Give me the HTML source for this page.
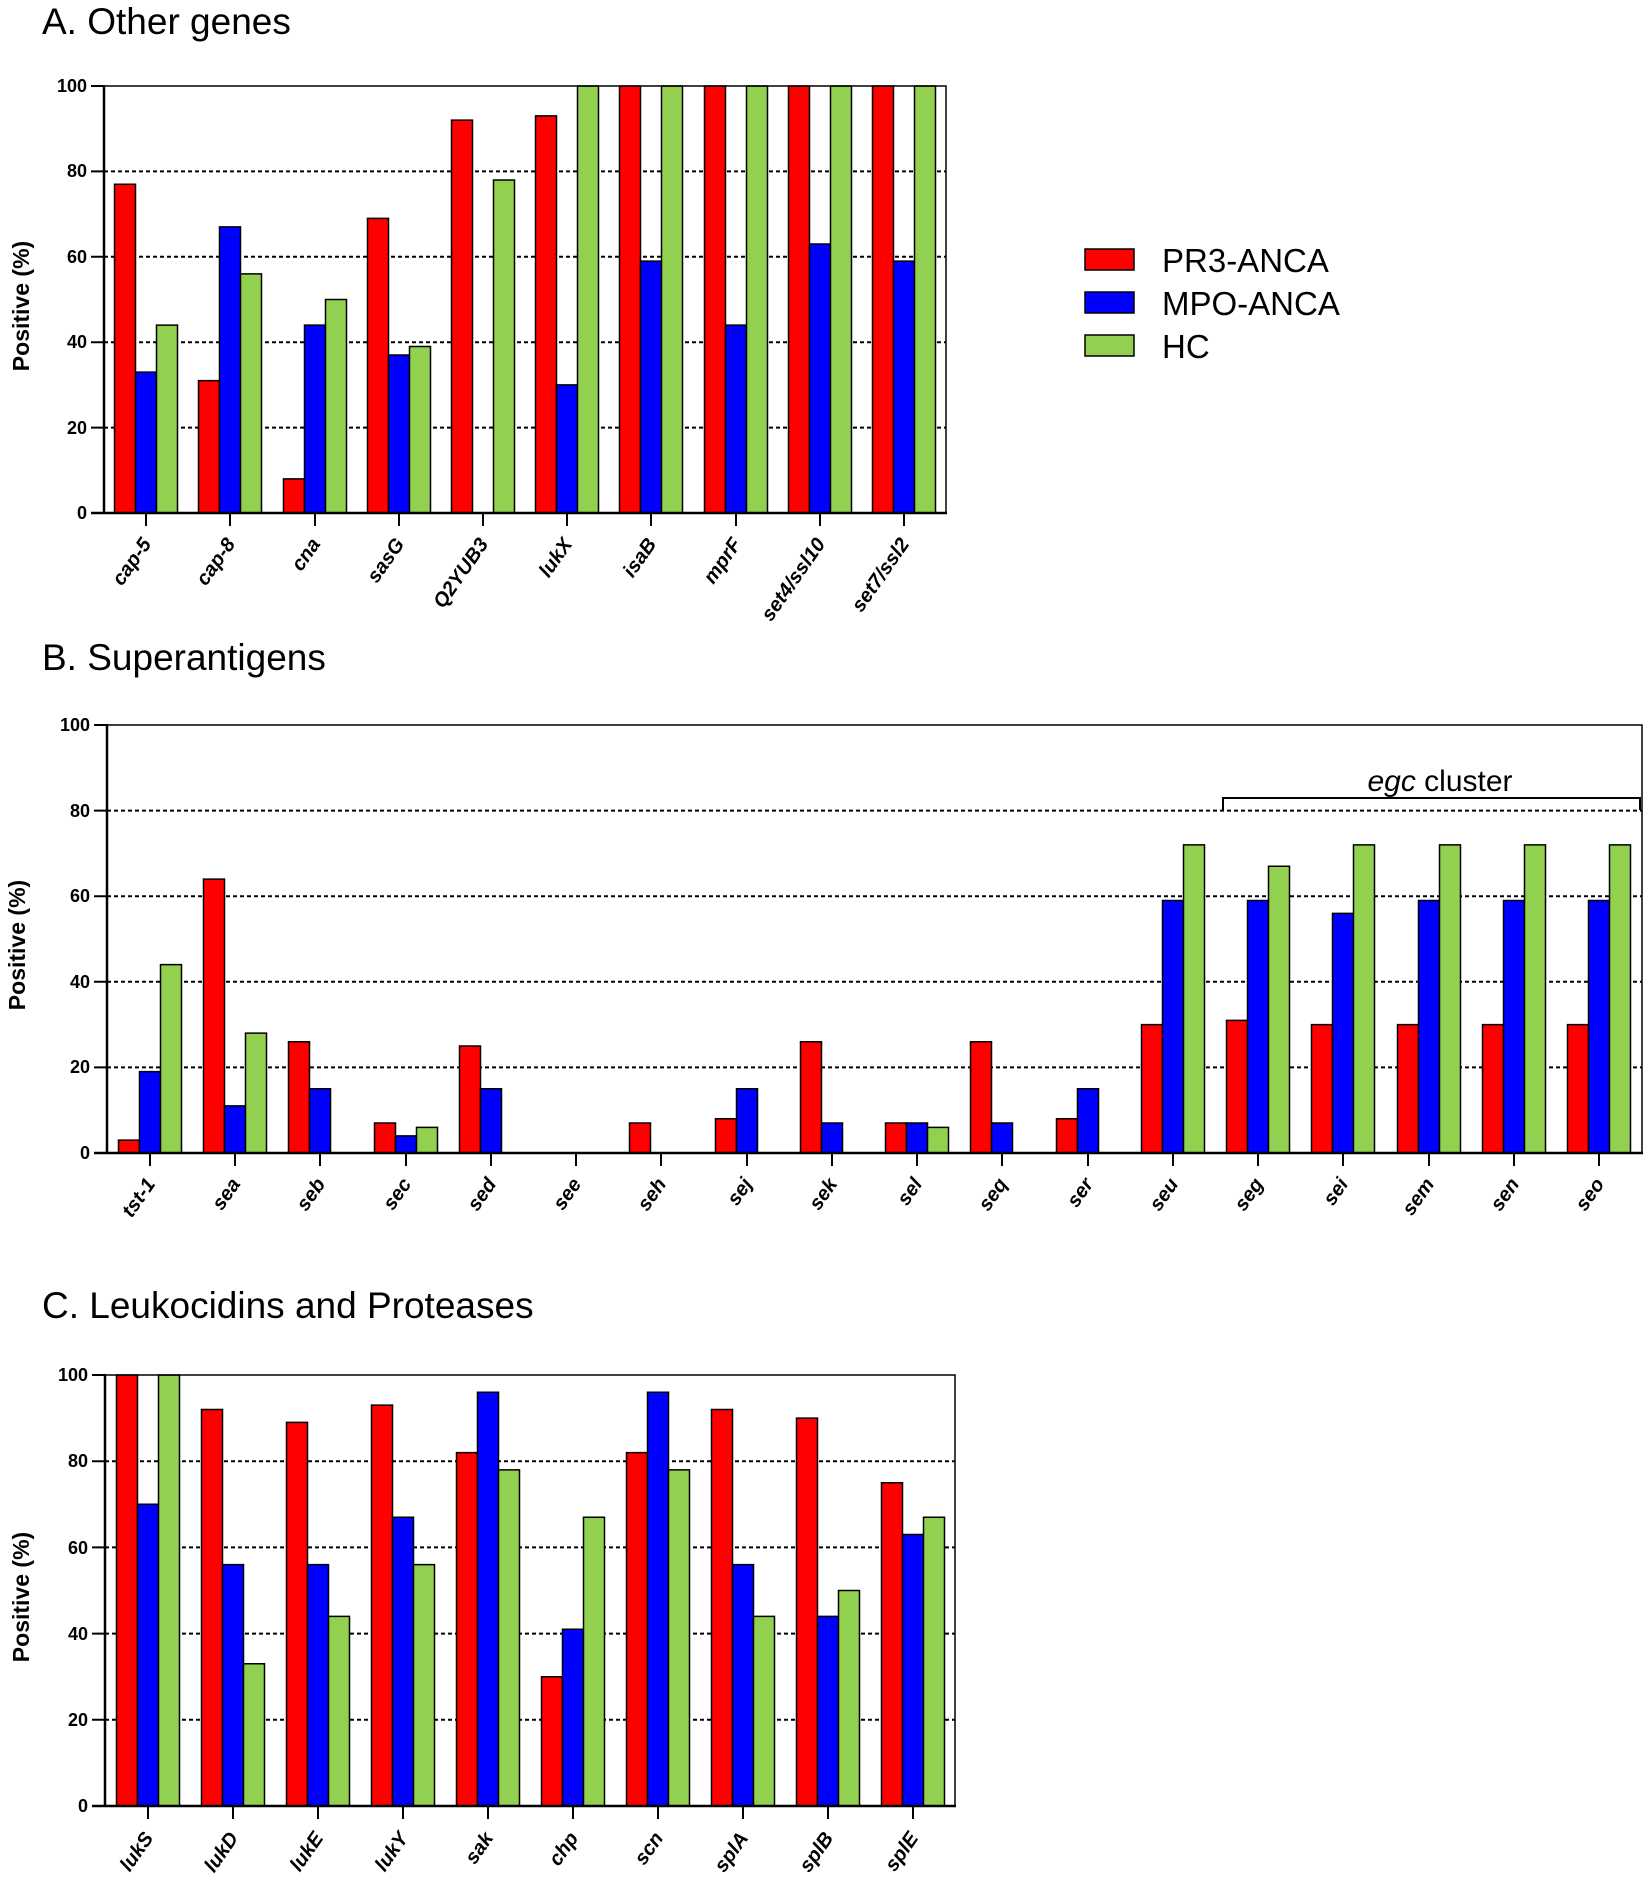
<!DOCTYPE html>
<html><head><meta charset="utf-8"><style>
body{margin:0;background:#fff}
svg{display:block}
.t{font-family:"Liberation Sans",Arial,sans-serif;font-size:37px;fill:#000}
.yl{font-family:"Liberation Sans",Arial,sans-serif;font-size:18px;font-weight:bold;text-anchor:end}
.xl{font-family:"Liberation Sans",Arial,sans-serif;font-size:20px;font-weight:bold;font-style:italic;text-anchor:end}
.at{font-family:"Liberation Sans",Arial,sans-serif;font-size:23px;font-weight:bold;text-anchor:middle}
.lg{font-family:"Liberation Sans",Arial,sans-serif;font-size:33px}
.gr line{stroke:#000;stroke-width:2;stroke-dasharray:4,3}
.bars rect{stroke:#000;stroke-width:1.5;vector-effect:non-scaling-stroke}
.r{fill:#ff0000}.b{fill:#0000ff}.g{fill:#92d050}
</style></head><body>
<svg width="1650" height="1880" viewBox="0 0 1650 1880" xmlns="http://www.w3.org/2000/svg">
<!-- ===== A ===== -->
<text class="t" x="42" y="34">A. Other genes</text>
<g class="gr"><line x1="104" x2="946" y1="427.6" y2="427.6"/><line x1="104" x2="946" y1="342.2" y2="342.2"/><line x1="104" x2="946" y1="256.8" y2="256.8"/><line x1="104" x2="946" y1="171.4" y2="171.4"/></g>
<g class="bars" transform="translate(0,513) scale(1,-4.27)">
<g transform="translate(146,0)"><rect class="r" x="-31.5" y="0" width="21" height="77"/><rect class="b" x="-10.5" y="0" width="21" height="33"/><rect class="g" x="10.5" y="0" width="21" height="44"/></g>
<g transform="translate(230,0)"><rect class="r" x="-31.5" y="0" width="21" height="31"/><rect class="b" x="-10.5" y="0" width="21" height="67"/><rect class="g" x="10.5" y="0" width="21" height="56"/></g>
<g transform="translate(315,0)"><rect class="r" x="-31.5" y="0" width="21" height="8"/><rect class="b" x="-10.5" y="0" width="21" height="44"/><rect class="g" x="10.5" y="0" width="21" height="50"/></g>
<g transform="translate(399,0)"><rect class="r" x="-31.5" y="0" width="21" height="69"/><rect class="b" x="-10.5" y="0" width="21" height="37"/><rect class="g" x="10.5" y="0" width="21" height="39"/></g>
<g transform="translate(483,0)"><rect class="r" x="-31.5" y="0" width="21" height="92"/><rect class="g" x="10.5" y="0" width="21" height="78"/></g>
<g transform="translate(567,0)"><rect class="r" x="-31.5" y="0" width="21" height="93"/><rect class="b" x="-10.5" y="0" width="21" height="30"/><rect class="g" x="10.5" y="0" width="21" height="100"/></g>
<g transform="translate(651,0)"><rect class="r" x="-31.5" y="0" width="21" height="100"/><rect class="b" x="-10.5" y="0" width="21" height="59"/><rect class="g" x="10.5" y="0" width="21" height="100"/></g>
<g transform="translate(736,0)"><rect class="r" x="-31.5" y="0" width="21" height="100"/><rect class="b" x="-10.5" y="0" width="21" height="44"/><rect class="g" x="10.5" y="0" width="21" height="100"/></g>
<g transform="translate(820,0)"><rect class="r" x="-31.5" y="0" width="21" height="100"/><rect class="b" x="-10.5" y="0" width="21" height="63"/><rect class="g" x="10.5" y="0" width="21" height="100"/></g>
<g transform="translate(904,0)"><rect class="r" x="-31.5" y="0" width="21" height="100"/><rect class="b" x="-10.5" y="0" width="21" height="59"/><rect class="g" x="10.5" y="0" width="21" height="100"/></g>
</g>
<rect x="104" y="86" width="842" height="427" fill="none" stroke="#000" stroke-width="1.5"/>
<path d="M104 85V514M91 513H947" stroke="#000" stroke-width="2.5" fill="none"/>
<path d="M91 86H104M91 171.4H104M91 256.8H104M91 342.2H104M91 427.6H104M146 513v13M230 513v13M315 513v13M399 513v13M483 513v13M567 513v13M651 513v13M736 513v13M820 513v13M904 513v13" stroke="#000" stroke-width="2"/>
<g><text class="yl" x="87" y="92">100</text><text class="yl" x="87" y="177">80</text><text class="yl" x="87" y="263">60</text><text class="yl" x="87" y="348">40</text><text class="yl" x="87" y="434">20</text><text class="yl" x="87" y="519">0</text></g>
<text class="at" transform="translate(29,306) rotate(-90)">Positive (%)</text>
<g>
<text class="xl" transform="translate(152,544) rotate(-55)">cap-5</text>
<text class="xl" transform="translate(236,544) rotate(-55)">cap-8</text>
<text class="xl" transform="translate(321,544) rotate(-55)">cna</text>
<text class="xl" transform="translate(405,544) rotate(-55)">sasG</text>
<text class="xl" transform="translate(489,544) rotate(-55)">Q2YUB3</text>
<text class="xl" transform="translate(573,544) rotate(-55)">lukX</text>
<text class="xl" transform="translate(657,544) rotate(-55)">isaB</text>
<text class="xl" transform="translate(742,544) rotate(-55)">mprF</text>
<text class="xl" transform="translate(826,544) rotate(-55)">set4/ssl10</text>
<text class="xl" transform="translate(910,544) rotate(-55)">set7/ssl2</text>
</g>
<!-- legend -->
<rect x="1085" y="249" width="49" height="21" class="r" stroke="#000" stroke-width="1.5"/>
<rect x="1085" y="292" width="49" height="21" class="b" stroke="#000" stroke-width="1.5"/>
<rect x="1085" y="335" width="49" height="21" class="g" stroke="#000" stroke-width="1.5"/>
<text class="lg" x="1162" y="272">PR3-ANCA</text>
<text class="lg" x="1162" y="315">MPO-ANCA</text>
<text class="lg" x="1162" y="358">HC</text>

<!-- ===== B ===== -->
<text class="t" x="42" y="670">B. Superantigens</text>
<g class="gr"><line x1="107" x2="1642" y1="1067.4" y2="1067.4"/><line x1="107" x2="1642" y1="981.8" y2="981.8"/><line x1="107" x2="1642" y1="896.2" y2="896.2"/><line x1="107" x2="1642" y1="810.6" y2="810.6"/></g>
<g class="bars" transform="translate(0,1153) scale(1,-4.28)">
<g transform="translate(150,0)"><rect class="r" x="-31.5" y="0" width="21" height="3"/><rect class="b" x="-10.5" y="0" width="21" height="19"/><rect class="g" x="10.5" y="0" width="21" height="44"/></g>
<g transform="translate(235,0)"><rect class="r" x="-31.5" y="0" width="21" height="64"/><rect class="b" x="-10.5" y="0" width="21" height="11"/><rect class="g" x="10.5" y="0" width="21" height="28"/></g>
<g transform="translate(320,0)"><rect class="r" x="-31.5" y="0" width="21" height="26"/><rect class="b" x="-10.5" y="0" width="21" height="15"/></g>
<g transform="translate(406,0)"><rect class="r" x="-31.5" y="0" width="21" height="7"/><rect class="b" x="-10.5" y="0" width="21" height="4"/><rect class="g" x="10.5" y="0" width="21" height="6"/></g>
<g transform="translate(491,0)"><rect class="r" x="-31.5" y="0" width="21" height="25"/><rect class="b" x="-10.5" y="0" width="21" height="15"/></g>
<g transform="translate(661,0)"><rect class="r" x="-31.5" y="0" width="21" height="7"/></g>
<g transform="translate(747,0)"><rect class="r" x="-31.5" y="0" width="21" height="8"/><rect class="b" x="-10.5" y="0" width="21" height="15"/></g>
<g transform="translate(832,0)"><rect class="r" x="-31.5" y="0" width="21" height="26"/><rect class="b" x="-10.5" y="0" width="21" height="7"/></g>
<g transform="translate(917,0)"><rect class="r" x="-31.5" y="0" width="21" height="7"/><rect class="b" x="-10.5" y="0" width="21" height="7"/><rect class="g" x="10.5" y="0" width="21" height="6"/></g>
<g transform="translate(1002,0)"><rect class="r" x="-31.5" y="0" width="21" height="26"/><rect class="b" x="-10.5" y="0" width="21" height="7"/></g>
<g transform="translate(1088,0)"><rect class="r" x="-31.5" y="0" width="21" height="8"/><rect class="b" x="-10.5" y="0" width="21" height="15"/></g>
<g transform="translate(1173,0)"><rect class="r" x="-31.5" y="0" width="21" height="30"/><rect class="b" x="-10.5" y="0" width="21" height="59"/><rect class="g" x="10.5" y="0" width="21" height="72"/></g>
<g transform="translate(1258,0)"><rect class="r" x="-31.5" y="0" width="21" height="31"/><rect class="b" x="-10.5" y="0" width="21" height="59"/><rect class="g" x="10.5" y="0" width="21" height="67"/></g>
<g transform="translate(1343,0)"><rect class="r" x="-31.5" y="0" width="21" height="30"/><rect class="b" x="-10.5" y="0" width="21" height="56"/><rect class="g" x="10.5" y="0" width="21" height="72"/></g>
<g transform="translate(1429,0)"><rect class="r" x="-31.5" y="0" width="21" height="30"/><rect class="b" x="-10.5" y="0" width="21" height="59"/><rect class="g" x="10.5" y="0" width="21" height="72"/></g>
<g transform="translate(1514,0)"><rect class="r" x="-31.5" y="0" width="21" height="30"/><rect class="b" x="-10.5" y="0" width="21" height="59"/><rect class="g" x="10.5" y="0" width="21" height="72"/></g>
<g transform="translate(1599,0)"><rect class="r" x="-31.5" y="0" width="21" height="30"/><rect class="b" x="-10.5" y="0" width="21" height="59"/><rect class="g" x="10.5" y="0" width="21" height="72"/></g>
</g>
<rect x="107" y="725" width="1535" height="428" fill="none" stroke="#000" stroke-width="1.5"/>
<path d="M107 724V1154M94 1153H1643" stroke="#000" stroke-width="2.5" fill="none"/>
<path d="M94 725H107M94 810.6H107M94 896.2H107M94 981.8H107M94 1067.4H107M150 1153v13M235 1153v13M320 1153v13M406 1153v13M491 1153v13M576 1153v13M661 1153v13M747 1153v13M832 1153v13M917 1153v13M1002 1153v13M1088 1153v13M1173 1153v13M1258 1153v13M1343 1153v13M1429 1153v13M1514 1153v13M1599 1153v13" stroke="#000" stroke-width="2"/>
<g><text class="yl" x="90" y="731">100</text><text class="yl" x="90" y="817">80</text><text class="yl" x="90" y="902">60</text><text class="yl" x="90" y="988">40</text><text class="yl" x="90" y="1073">20</text><text class="yl" x="90" y="1159">0</text></g>
<text class="at" transform="translate(25,945) rotate(-90)">Positive (%)</text>
<path d="M1223 810V798H1640V810" stroke="#000" stroke-width="2" fill="none"/>
<text x="1440" y="791" text-anchor="middle" style="font-family:'Liberation Sans',Arial,sans-serif;font-size:30px"><tspan font-style="italic">egc</tspan> cluster</text>
<g>
<text class="xl" transform="translate(156,1184) rotate(-55)">tst-1</text>
<text class="xl" transform="translate(241,1184) rotate(-55)">sea</text>
<text class="xl" transform="translate(326,1184) rotate(-55)">seb</text>
<text class="xl" transform="translate(412,1184) rotate(-55)">sec</text>
<text class="xl" transform="translate(497,1184) rotate(-55)">sed</text>
<text class="xl" transform="translate(582,1184) rotate(-55)">see</text>
<text class="xl" transform="translate(667,1184) rotate(-55)">seh</text>
<text class="xl" transform="translate(753,1184) rotate(-55)">sej</text>
<text class="xl" transform="translate(838,1184) rotate(-55)">sek</text>
<text class="xl" transform="translate(923,1184) rotate(-55)">sel</text>
<text class="xl" transform="translate(1008,1184) rotate(-55)">seq</text>
<text class="xl" transform="translate(1094,1184) rotate(-55)">ser</text>
<text class="xl" transform="translate(1179,1184) rotate(-55)">seu</text>
<text class="xl" transform="translate(1264,1184) rotate(-55)">seg</text>
<text class="xl" transform="translate(1349,1184) rotate(-55)">sei</text>
<text class="xl" transform="translate(1435,1184) rotate(-55)">sem</text>
<text class="xl" transform="translate(1520,1184) rotate(-55)">sen</text>
<text class="xl" transform="translate(1605,1184) rotate(-55)">seo</text>
</g>

<!-- ===== C ===== -->
<text class="t" x="42" y="1318">C. Leukocidins and Proteases</text>
<g class="gr"><line x1="105" x2="955" y1="1719.8" y2="1719.8"/><line x1="105" x2="955" y1="1633.6" y2="1633.6"/><line x1="105" x2="955" y1="1547.4" y2="1547.4"/><line x1="105" x2="955" y1="1461.2" y2="1461.2"/></g>
<g class="bars" transform="translate(0,1806) scale(1,-4.31)">
<g transform="translate(148,0)"><rect class="r" x="-31.5" y="0" width="21" height="100"/><rect class="b" x="-10.5" y="0" width="21" height="70"/><rect class="g" x="10.5" y="0" width="21" height="100"/></g>
<g transform="translate(233,0)"><rect class="r" x="-31.5" y="0" width="21" height="92"/><rect class="b" x="-10.5" y="0" width="21" height="56"/><rect class="g" x="10.5" y="0" width="21" height="33"/></g>
<g transform="translate(318,0)"><rect class="r" x="-31.5" y="0" width="21" height="89"/><rect class="b" x="-10.5" y="0" width="21" height="56"/><rect class="g" x="10.5" y="0" width="21" height="44"/></g>
<g transform="translate(403,0)"><rect class="r" x="-31.5" y="0" width="21" height="93"/><rect class="b" x="-10.5" y="0" width="21" height="67"/><rect class="g" x="10.5" y="0" width="21" height="56"/></g>
<g transform="translate(488,0)"><rect class="r" x="-31.5" y="0" width="21" height="82"/><rect class="b" x="-10.5" y="0" width="21" height="96"/><rect class="g" x="10.5" y="0" width="21" height="78"/></g>
<g transform="translate(573,0)"><rect class="r" x="-31.5" y="0" width="21" height="30"/><rect class="b" x="-10.5" y="0" width="21" height="41"/><rect class="g" x="10.5" y="0" width="21" height="67"/></g>
<g transform="translate(658,0)"><rect class="r" x="-31.5" y="0" width="21" height="82"/><rect class="b" x="-10.5" y="0" width="21" height="96"/><rect class="g" x="10.5" y="0" width="21" height="78"/></g>
<g transform="translate(743,0)"><rect class="r" x="-31.5" y="0" width="21" height="92"/><rect class="b" x="-10.5" y="0" width="21" height="56"/><rect class="g" x="10.5" y="0" width="21" height="44"/></g>
<g transform="translate(828,0)"><rect class="r" x="-31.5" y="0" width="21" height="90"/><rect class="b" x="-10.5" y="0" width="21" height="44"/><rect class="g" x="10.5" y="0" width="21" height="50"/></g>
<g transform="translate(913,0)"><rect class="r" x="-31.5" y="0" width="21" height="75"/><rect class="b" x="-10.5" y="0" width="21" height="63"/><rect class="g" x="10.5" y="0" width="21" height="67"/></g>
</g>
<rect x="105" y="1375" width="850" height="431" fill="none" stroke="#000" stroke-width="1.5"/>
<path d="M105 1374V1807M92 1806H956" stroke="#000" stroke-width="2.5" fill="none"/>
<path d="M92 1375H105M92 1461.2H105M92 1547.4H105M92 1633.6H105M92 1719.8H105M148 1806v13M233 1806v13M318 1806v13M403 1806v13M488 1806v13M573 1806v13M658 1806v13M743 1806v13M828 1806v13M913 1806v13" stroke="#000" stroke-width="2"/>
<g><text class="yl" x="88" y="1381">100</text><text class="yl" x="88" y="1467">80</text><text class="yl" x="88" y="1554">60</text><text class="yl" x="88" y="1640">40</text><text class="yl" x="88" y="1726">20</text><text class="yl" x="88" y="1812">0</text></g>
<text class="at" transform="translate(29,1597) rotate(-90)">Positive (%)</text>
<g>
<text class="xl" transform="translate(154,1838) rotate(-55)">lukS</text>
<text class="xl" transform="translate(239,1838) rotate(-55)">lukD</text>
<text class="xl" transform="translate(324,1838) rotate(-55)">lukE</text>
<text class="xl" transform="translate(409,1838) rotate(-55)">lukY</text>
<text class="xl" transform="translate(494,1838) rotate(-55)">sak</text>
<text class="xl" transform="translate(579,1838) rotate(-55)">chp</text>
<text class="xl" transform="translate(664,1838) rotate(-55)">scn</text>
<text class="xl" transform="translate(749,1838) rotate(-55)">splA</text>
<text class="xl" transform="translate(834,1838) rotate(-55)">splB</text>
<text class="xl" transform="translate(919,1838) rotate(-55)">splE</text>
</g>
</svg>
</body></html>
